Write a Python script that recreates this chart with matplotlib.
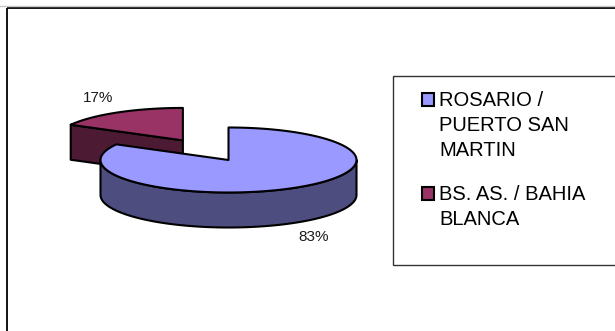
import numpy as np
import matplotlib
matplotlib.use("Agg")
import matplotlib.pyplot as plt
from matplotlib.patches import Polygon, Rectangle

# data
labels = ["ROSARIO /\nPUERTO SAN\nMARTIN", "BS. AS. / BAHIA\nBLANCA"]
values = [83, 17]
explode = [0.0, 0.7]
top_colors = ["#9999FF", "#993366"]
side_colors = ["#4D4D80", "#4D1A33"]

plt.rcParams["font.family"] = ["Liberation Sans", "DejaVu Sans"]

fig = plt.figure(figsize=(6.15, 3.31), dpi=100)
ax = fig.add_axes([0, 0, 1, 1])
ax.set_xlim(0, 615)
ax.set_ylim(331, 0)
ax.axis("off")

# chart frame
ax.plot([0, 615], [6, 6], color="#c8c8c8", lw=1)
ax.add_patch(Rectangle((6.5, 8), 640, 340, fill=False, ec="black", lw=1.3))

# 3d pie geometry (pixels)
cx, cy = 228.5, 160
a, b = 128, 32.5
depth = 35


def ell(x0, y0, th):
    th = np.radians(th)
    return np.column_stack([x0 + a * np.cos(th), y0 - b * np.sin(th)])


total = float(sum(values))
start = 90.0
slices = []
cum = 0.0
for i, v in enumerate(values):
    t2 = start - 360 * cum / total
    t1 = start - 360 * (cum + v) / total
    cum += v
    mid = (t1 + t2) / 2
    m = np.radians(mid)
    ox = cx + a * explode[i] * np.cos(m)
    oy = cy - b * explode[i] * np.sin(m)
    slices.append((np.sin(m), i, t1, t2, mid, ox, oy))

# draw back slices first
slices.sort(key=lambda s: -s[0])
for s, i, t1, t2, mid, ox, oy in slices:
    ec = dict(edgecolor="black", lw=1.5, joinstyle="round")
    # radial faces that face the viewer
    for th, sgn in ((t1, -1), (t2, 1)):
        nrm = np.radians(th + sgn * 90)
        if np.sin(nrm) < -1e-6:
            p = ell(ox, oy, np.array([th]))[0]
            face = [(ox, oy), tuple(p), (p[0], p[1] + depth), (ox, oy + depth)]
            ax.add_patch(Polygon(face, closed=True, fc=side_colors[i], **ec))
    # outer wall (front half only)
    for lo, hi in ((-180, 0), (180, 360)):
        w1, w2 = max(t1, lo), min(t2, hi)
        if w2 > w1:
            th = np.linspace(w1, w2, 120)
            up = ell(ox, oy, th)
            dn = up[::-1] + [0, depth]
            ax.add_patch(Polygon(np.vstack([up, dn]), closed=True,
                                 fc=side_colors[i], **ec))
    # top face
    th = np.linspace(t1, t2, 240)
    pts = np.vstack([[ox, oy], ell(ox, oy, th)])
    ax.add_patch(Polygon(pts, closed=True, fc=top_colors[i], **ec))
    # percentage label
    m = np.radians(mid)
    lx = ox + a * 1.3 * np.cos(m)
    ly = oy - (b * 1.3 + 6.5) * np.sin(m)
    if np.sin(m) < 0:
        ly += depth
    ax.text(lx, ly, f"{values[i] / total:.0%}", fontsize=11,
            ha="center", va="center", color="#1a1a1a")

# legend
ax.add_patch(Rectangle((393, 76), 260, 189, fill=False, ec="#333333", lw=1))
row_top = [93, 187]
for i, lab in enumerate(labels):
    y0 = row_top[i]
    ax.add_patch(Rectangle((422, y0), 12, 12.5, fc=top_colors[i],
                           ec="black", lw=1.5))
    for k, line in enumerate(lab.split("\n")):
        ax.text(439, y0 + 13 + 25 * k, line, fontsize=14.5, ha="left",
                va="baseline", color="black")

fig.savefig("out.png", dpi=100)
